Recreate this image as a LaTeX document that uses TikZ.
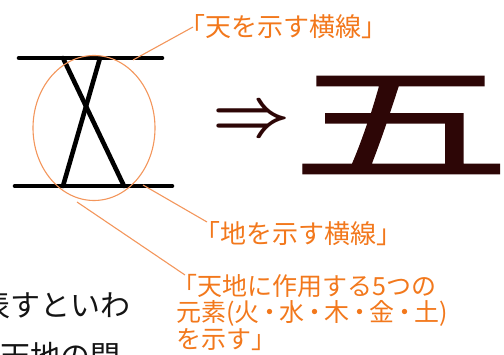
\documentclass[tikz,border=0pt]{standalone}
\usepackage{fontspec}
\usetikzlibrary{shapes.geometric}
\setmainfont{Noto Sans CJK JP}
\newfontfamily\jp{Noto Sans CJK JP}
\newfontfamily\gofont{Noto Sans CJK JP}[FakeStretch=1.74, FakeBold=1]
\definecolor{oratext}{RGB}{242,120,28}
\definecolor{oraline}{RGB}{243,150,92}
\definecolor{maroonk}{RGB}{45,6,6}
\definecolor{inkk}{RGB}{20,20,20}
\newcommand{\nakaguro}{\makebox[20pt]{・}}
\tikzset{
  kanjiline/.style={line width=4.6pt, line cap=round, draw=black},
  leader/.style={draw=oraline, line width=1.1pt},
  note/.style={font=\jp\fontsize{26}{26.5}\selectfont, text=oratext, inner sep=0pt, anchor=west, align=left},
  notesm/.style={font=\jp\fontsize{25}{26.5}\selectfont, text=oratext, inner sep=0pt, align=left},
  body/.style={font=\jp\fontsize{30}{30}\selectfont, text=inkk, inner sep=0pt, anchor=west},
}
\begin{document}
\begin{tikzpicture}[x=1pt,y=-1pt]
\useasboundingbox (0,0) rectangle (504,355);
\clip (0,0) rectangle (504,355);
% kanji strokes
\coordinate (tl) at (19,58);  \coordinate (tr) at (162,58);
\coordinate (bl) at (15,186); \coordinate (br) at (172,186);
\coordinate (a1) at (63,58);  \coordinate (a2) at (124,186);
\coordinate (b1) at (100,58); \coordinate (b2) at (63,186);
\draw[kanjiline] (tl) -- (tr);
\draw[kanjiline] (bl) -- (br);
\draw[kanjiline] (a1) -- (a2);
\draw[kanjiline] (b1) -- (b2);
% circle
\node[draw=oraline, line width=1.1pt, ellipse, minimum width=122pt, minimum height=145pt, inner sep=0pt] (circ) at (94,128) {};
% notes
\node[note] (t1) at (179,27) {「天を示す横線」};
\node[note] (t2) at (194,234) {「地を示す横線」};
\node[notesm, anchor=north west] (t3) at (172,274) {「天地に作用する5つの\\\hspace*{4pt}元素(火\nakaguro 水\nakaguro 木\nakaguro 金\nakaguro 土)\\\hspace*{4pt}を示す」};
\coordinate (p1) at (133,60);  \coordinate (q1) at (193,27);
\coordinate (p2) at (143,185); \coordinate (q2) at (207,222);
\coordinate (p3) at (77,202);  \coordinate (q3) at (185,275);
\draw[leader] (p1) -- (q1);
\draw[leader] (p2) -- (q2);
\draw[leader] (p3) -- (q3);
% arrow and result
\node[font=\boldmath, text=maroonk, inner sep=0pt, scale=6.8] (arr) at (251.5,122.5) {$\Rightarrow$};
\node[font=\gofont\fontsize{127}{127}\selectfont, text=maroonk, inner sep=0pt] (go) at (401,125) {\makebox[196pt]{五}};
% body text
\node[body] (l1) at (-20,305) {表すといわ};
\node[body] (l2) at (0,356) {天地の間};
\end{tikzpicture}
\end{document}
